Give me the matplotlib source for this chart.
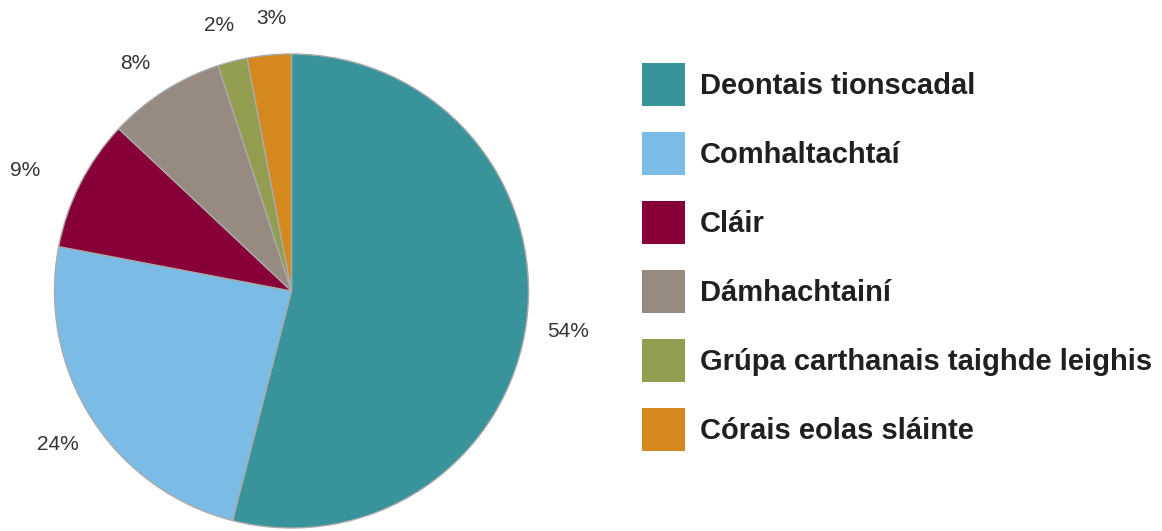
import numpy as np
import matplotlib
matplotlib.use('Agg')
import matplotlib.pyplot as plt
from matplotlib.patches import Patch

plt.rcParams['font.family'] = ['Liberation Sans', 'DejaVu Sans']

categories = ['Deontais tionscadal', 'Comhaltachtaí', 'Cláir', 'Dámhachtainí',
              'Grúpa carthanais taighde leighis', 'Córais eolas sláinte']
shares = [54, 24, 9, 8, 2, 3]
colors = ['#38939b', '#7bbce6', '#870038', '#978a80', '#939d50', '#d4881e']

# label placement tweaks (radius in pie radii, angle nudge in degrees)
label_dist = [1.18, 1.18, 1.235, 1.165, 1.163, 1.152]
label_nudge = [-1.2, 0.9, 2.6, 2.0, 0.8, -1.1]

W, H = 1162, 531
fig = plt.figure(figsize=(W / 100, H / 100), dpi=100)

# pie centre ~ (291.5, 291) px, radius ~237 px
cx, cy, r = 291.5, 291, 237
ax = fig.add_axes([(cx - r) / W, (H - cy - r) / H, 2 * r / W, 2 * r / H])
wedges, texts, autotexts = ax.pie(
    shares, colors=colors, startangle=90, counterclock=False,
    autopct='%d%%', pctdistance=1.18,
    wedgeprops=dict(edgecolor='#aaaaaa', linewidth=1.0),
    textprops=dict(fontsize=15, color='#333333'))
ax.set_xlim(-1, 1)
ax.set_ylim(-1, 1)

for w, t, d, n in zip(wedges, autotexts, label_dist, label_nudge):
    ang = np.deg2rad((w.theta1 + w.theta2) / 2 + n)
    t.set_position((d * np.cos(ang), d * np.sin(ang)))
    t.set_ha('center')
    t.set_va('center')

fs = 21
fs_px = fs * 100 / 72
patch = 43 / fs_px
hh = (patch - 0.245) / 0.65
handles = [Patch(facecolor=c, edgecolor='none') for c in colors]
fig.legend(handles, categories, loc='upper left',
           bbox_to_anchor=(642 / W, 1 - 63 / H), frameon=False,
           borderpad=0, borderaxespad=0,
           prop=dict(weight='bold', size=fs),
           handlelength=patch, handleheight=hh, handletextpad=15 / fs_px,
           labelspacing=26 / fs_px, labelcolor='#231f20')

fig.savefig('out.png', dpi=100)
